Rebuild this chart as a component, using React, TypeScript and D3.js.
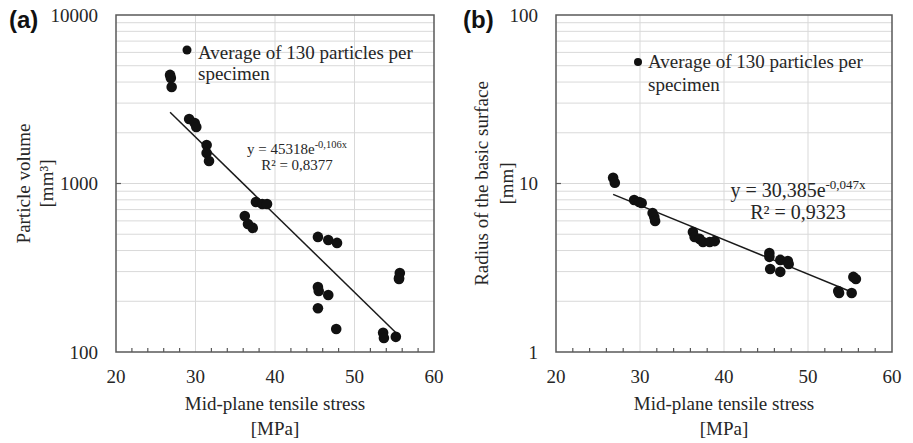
import React from "react";
import { scaleLinear, scaleLog, range } from "d3";

const stressA = [26.8, 26.9, 27.0, 29.2, 29.9, 30.1, 31.4, 31.4, 31.7, 37.6, 38.4, 39.0, 36.2, 36.6, 37.2,
  45.4, 46.7, 47.8, 55.7, 55.6, 55.6, 45.4, 45.5, 46.7, 45.4, 47.7, 53.6, 53.7, 55.2];
const volumeA = [4410, 4230, 3740, 2415, 2285, 2165, 1690, 1517, 1361, 777, 755, 755, 641, 575, 545,
  482, 462, 444, 294, 275, 271, 243, 230, 218, 182, 137, 130, 121, 123];

const stressB = [26.8, 27.0, 29.3, 29.9, 30.2, 31.5, 31.7, 31.8, 36.3, 36.5, 37.1, 37.5, 38.3, 38.9,
  45.4, 45.4, 46.7, 47.6, 47.7, 45.5, 46.7, 53.6, 53.7, 55.2, 55.4, 55.7];
const radiusB = [10.8, 10.1, 7.98, 7.77, 7.66, 6.68, 6.33, 5.99, 5.15, 4.81, 4.69, 4.5, 4.5, 4.55,
  3.87, 3.67, 3.52, 3.47, 3.33, 3.11, 2.99, 2.3, 2.24, 2.24, 2.79, 2.71];

const xTicks = [20, 30, 40, 50, 60];
const yTicksA = [100, 1000, 10000];
const yTicksB = [1, 10, 100];

// exponential trend lines y = a * e^(b x)
const fitA = { a: 45318, b: -0.106, eq: "45318e", exp: "-0,106x", r2: "0,8377" };
const fitB = { a: 30.385, b: -0.047, eq: "30,385e", exp: "-0,047x", r2: "0,9323" };

const serif = "'Liberation Serif', 'DejaVu Serif', 'Times New Roman', serif";
const ink = "#262626";
const gridColor = "#d9d9d9";
const frameColor = "#595959";
const fs = 19;

type PanelProps = {
  xs: number[];
  ys: number[];
  yTicks: number[];
  fit: typeof fitA;
  left: number;
  right: number;
  tag: string;
  tagX: number;
  yTitle: string[];
  yTitleX: number[];
  legend: { mx: number; my: number; r: number; tx: number; b1: number; b2: number };
  eqPos: { cx: number; b1: number; b2: number; size: number; sup: number; supDy: number };
};

function Panel(p: PanelProps) {
  const top = 15;
  const bottom = 352;
  const x = scaleLinear().domain([20, 60]).range([p.left, p.right]);
  const y = scaleLog().domain([p.yTicks[0], p.yTicks[2]]).range([bottom, top]);

  // minor log gridlines 2..9 of each decade
  const minor: number[] = [];
  for (let d = 0; d < 2; d++) {
    const base = p.yTicks[d];
    for (let k = 2; k <= 9; k++) minor.push(base * k);
  }
  const xMinor = range(22, 60, 2).filter((v) => v % 10 !== 0);

  const x0 = Math.min(...p.xs);
  const x1 = Math.max(...p.xs);
  const trend = (v: number) => p.fit.a * Math.exp(p.fit.b * v);
  const midY = (top + bottom) / 2;

  return (
    <g>
      {minor.map((v) => (
        <line key={"m" + v} x1={p.left} x2={p.right} y1={y(v)} y2={y(v)} stroke={gridColor} strokeWidth={1} />
      ))}
      <line x1={p.left} x2={p.right} y1={y(p.yTicks[1])} y2={y(p.yTicks[1])} stroke={gridColor} strokeWidth={1} />
      {xTicks.slice(1, -1).map((v) => (
        <line key={"g" + v} x1={x(v)} x2={x(v)} y1={top} y2={bottom} stroke={gridColor} strokeWidth={1} />
      ))}
      {xMinor.map((v) => (
        <line key={"t" + v} x1={x(v)} x2={x(v)} y1={bottom} y2={bottom - 4} stroke={frameColor} strokeWidth={1.2} />
      ))}
      <line x1={p.left} x2={p.left + 5} y1={y(p.yTicks[1])} y2={y(p.yTicks[1])} stroke={frameColor} strokeWidth={1.2} />
      <rect x={p.left} y={top} width={p.right - p.left} height={bottom - top} fill="none" stroke={frameColor} strokeWidth={1.5} />

      <line x1={x(x0)} y1={y(trend(x0))} x2={x(x1)} y2={y(trend(x1))} stroke="#1a1a1a" strokeWidth={1.5} />
      {p.xs.map((v, i) => (
        <circle key={i} cx={x(v)} cy={y(p.ys[i])} r={5.3} fill="#111" />
      ))}

      {xTicks.map((v) => (
        <text key={"xl" + v} x={x(v)} y={383} textAnchor="middle" fontFamily={serif} fontSize={fs} fill={ink}>{v}</text>
      ))}
      {p.yTicks.map((v) => (
        <text key={"yl" + v} x={p.left - 18} y={y(v)} dy="0.35em" textAnchor="end" fontFamily={serif} fontSize={fs} fill={ink}>{v}</text>
      ))}
      <text x={(p.left + p.right) / 2} y={410} textAnchor="middle" fontFamily={serif} fontSize={fs} fill={ink}>Mid-plane tensile stress</text>
      <text x={(p.left + p.right) / 2} y={435} textAnchor="middle" fontFamily={serif} fontSize={fs} fill={ink}>[MPa]</text>
      {p.yTitle.map((t, i) => (
        <text key={t} transform={`translate(${p.yTitleX[i]},${midY}) rotate(-90)`} textAnchor="middle" fontFamily={serif} fontSize={fs} fill={ink}>{t}</text>
      ))}

      <circle cx={p.legend.mx} cy={p.legend.my} r={p.legend.r} fill="#111" />
      <text x={p.legend.tx} y={p.legend.b1} fontFamily={serif} fontSize={fs} fill={ink}>Average of 130 particles per</text>
      <text x={p.legend.tx} y={p.legend.b2} fontFamily={serif} fontSize={fs} fill={ink}>specimen</text>

      <text x={p.eqPos.cx} y={p.eqPos.b1} textAnchor="middle" fontFamily={serif} fontSize={p.eqPos.size} fill={ink}>
        {"y = " + p.fit.eq}
        <tspan fontSize={p.eqPos.sup} dy={-p.eqPos.supDy}>{p.fit.exp}</tspan>
      </text>
      <text x={p.eqPos.cx} y={p.eqPos.b2} textAnchor="middle" fontFamily={serif} fontSize={p.eqPos.size} fill={ink}>
        {"R² = " + p.fit.r2}
      </text>

      <text x={p.tagX} y={28} fontFamily="'Liberation Sans', Arial, sans-serif" fontWeight="bold" fontSize={24} fill="#111">{p.tag}</text>
    </g>
  );
}

export default function App() {
  return (
    <svg width={913} height={443} style={{ position: "absolute", left: 0, top: 0, background: "#fff" }}>
      <Panel
        xs={stressA}
        ys={volumeA}
        yTicks={yTicksA}
        fit={fitA}
        left={116}
        right={434}
        tag="(a)"
        tagX={9}
        yTitle={["Particle volume", "[mm³]"]}
        yTitleX={[30, 53]}
        legend={{ mx: 187, my: 50, r: 4.5, tx: 198, b1: 59, b2: 80 }}
        eqPos={{ cx: 297, b1: 154, b2: 170, size: 15, sup: 10.5, supDy: 6 }}
      />
      <Panel
        xs={stressB}
        ys={radiusB}
        yTicks={yTicksB}
        fit={fitB}
        left={556}
        right={892}
        tag="(b)"
        tagX={463}
        yTitle={["Radius of the basic surface", "[mm]"]}
        yTitleX={[488, 513]}
        legend={{ mx: 638, my: 62, r: 4, tx: 648, b1: 68, b2: 91 }}
        eqPos={{ cx: 798, b1: 197, b2: 219, size: 20, sup: 13, supDy: 8 }}
      />
    </svg>
  );
}
